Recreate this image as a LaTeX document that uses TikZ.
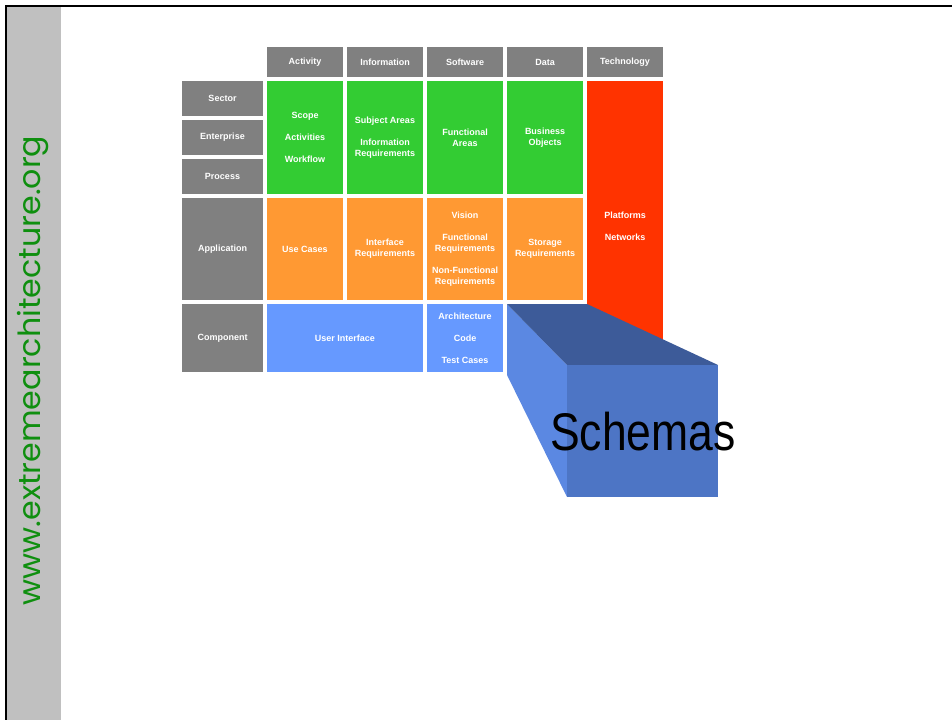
\documentclass[tikz,border=0pt]{standalone}
\usepackage{fontspec}
\setmainfont{Liberation Sans}
\newfontfamily\zfsitefont{Poppins}
\usetikzlibrary{positioning}
\definecolor{zfink}{HTML}{000000}
\definecolor{zfpage}{HTML}{FFFFFF}
\definecolor{zfside}{HTML}{C0C0C0}
\definecolor{zfsite}{HTML}{0F8F0F}
\definecolor{zfgrey}{HTML}{808080}
\definecolor{zfgreen}{HTML}{33CC33}
\definecolor{zforange}{HTML}{FF9933}
\definecolor{zfblue}{HTML}{6699FF}
\definecolor{zfred}{HTML}{FF3300}
\definecolor{zfcubetop}{HTML}{3D5B99}
\definecolor{zfcubefront}{HTML}{4D75C5}
\definecolor{zfcubeside}{HTML}{5B88E2}
\tikzset{
  zfcell/.style={
    inner sep=0pt,
    align=center,
    minimum width=76pt,
    font=\fontsize{9}{11}\selectfont\bfseries,
    text=zfpage
  },
  zfhead/.style={
    zfcell,
    fill=zfgrey,
    minimum height=30pt
  },
  zfrow/.style={
    zfcell,
    fill=zfgrey,
    minimum width=81pt
  },
  zfplan/.style={
    zfcell,
    fill=zfgreen,
    minimum height=113pt
  },
  zfspec/.style={
    zfcell,
    fill=zforange,
    minimum height=102pt
  },
  zfbuild/.style={
    zfcell,
    fill=zfblue,
    minimum height=68pt
  },
  zftech/.style={
    zfcell,
    fill=zfred
  },
  zfframe/.style={
    draw=zfink,
    line width=2.2pt
  }
}
\begin{document}
\begin{tikzpicture}[x=1pt,y=-1pt]
  \useasboundingbox (0,0) rectangle (952,720);

  % side band and slide frame
  \fill[zfside] (7,7) rectangle (61,720);
  \draw[zfframe] (952,6) -- (6,6) -- (6,720);
  \node[rotate=90, anchor=base, inner sep=0pt, text=zfsite, font=\zfsitefont\fontsize{30.5}{31}\selectfont] (site) at (40,370.5) {\scalebox{1.04}[1]{www.extremearchitecture.org}};

  % column heads
  \node[zfhead] (activity) at (305,62) {Activity};
  \node[zfhead] (information) at (385,62) {Information};
  \node[zfhead] (software) at (465,62) {Software};
  \node[zfhead] (data) at (545,62) {Data};
  \node[zfhead] (technology) at (625,62) {Technology};

  % row heads
  \node[zfrow, minimum height=35pt] (sector) at (222.5,98.5) {Sector};
  \node[zfrow, minimum height=35pt] (enterprise) at (222.5,137.5) {Enterprise};
  \node[zfrow, minimum height=35pt] (process) at (222.5,176.5) {Process};
  \node[zfrow, minimum height=102pt] (application) at (222.5,249) {Application};
  \node[zfrow, minimum height=68pt] (component) at (222.5,338) {Component};

  % planning rows
  \node[zfplan] (scope) at (305,137.5) {Scope\\[11pt]Activities\\[11pt]Workflow};
  \node[zfplan] (subjects) at (385,137.5) {Subject Areas\\[11pt]Information\\Requirements};
  \node[zfplan] (areas) at (465,137.5) {Functional\\Areas};
  \node[zfplan] (objects) at (545,137.5) {Business\\Objects};

  % application row
  \node[zfspec] (usecases) at (305,249) {Use Cases};
  \node[zfspec] (interface) at (385,249) {Interface\\Requirements};
  \node[zfspec] (vision) at (465,249) {Vision\\[11pt]Functional\\Requirements\\[11pt]Non-Functional\\Requirements};
  \node[zfspec] (storage) at (545,249) {Storage\\Requirements};

  % component row
  \node[zfbuild, minimum width=156pt] (userif) at (345,338) {User Interface};
  \node[zfbuild] (architecture) at (465,338) {Architecture\\[11pt]Code\\[11pt]Test Cases};

  \node[zftech, minimum height=290pt] (platforms) at (625,226) {Platforms\\[11pt]Networks};

  % schemas block
  \fill[zfcubeside] (507,304) -- (567,365) -- (567,497) -- (507,375) -- cycle;
  \fill[zfcubetop] (507,304) -- (587,304) -- (718,365) -- (567,365) -- cycle;
  \fill[zfcubefront] (567,365) rectangle (718,497);
  \node[anchor=base, inner sep=0pt, xscale=0.84, text=zfink, font=\fontsize{53}{53}\selectfont] (schemas) at (643,450) {Schemas};
\end{tikzpicture}
\end{document}
